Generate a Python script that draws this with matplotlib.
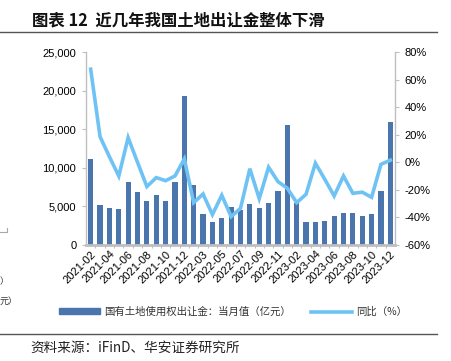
import matplotlib
matplotlib.use("Agg")
import matplotlib.pyplot as plt
from matplotlib.lines import Line2D
from matplotlib.patches import Patch

plt.rcParams['font.family'] = ['Liberation Sans', 'Noto Sans CJK SC', 'DejaVu Sans']

months = (["2021-%02d" % m for m in range(2, 13)] +
          ["2022-%02d" % m for m in range(2, 13)] +
          ["2023-%02d" % m for m in range(2, 13)])
revenue = [11140, 5140, 4790, 4620, 8210, 6830, 5620, 6440, 5650, 8120, 19300,
           7770, 3940, 2940, 3460, 4880, 4490, 5310, 4710, 5400, 7040, 15570,
           5360, 2980, 2900, 3030, 3680, 4070, 4100, 3680, 3980, 6920, 15890]
yoy = [67.7, 18.6, 4.0, -10.0, 17.9, 0.0, -17.7, -11.2, -13.4, -10.0, 2.4,
       -29.4, -23.1, -38.1, -24.0, -39.6, -33.5, -4.7, -26.5, -3.6, -14.1, -18.9,
       -29.4, -23.3, -0.7, -12.4, -24.5, -10.0, -22.6, -21.8, -25.5, -1.5, 1.5]
left_ticks = [0, 5000, 10000, 15000, 20000, 25000]
right_ticks = [-60, -40, -20, 0, 20, 40, 60, 80]
title = "图表 12  近几年我国土地出让金整体下滑"
bar_label = "国有土地使用权出让金：当月值（亿元）"
line_label = "同比（%）"
source = "资料来源：iFinD、华安证券研究所"

BAR_C = "#4a76ad"
LINE_C = "#6ec3f4"
AX_C = "#bfbfbf"
CJK = ['Noto Sans CJK SC', 'DejaVu Sans']

fig = plt.figure(figsize=(4.52, 3.61), dpi=100)
ax = fig.add_axes([86/452, 1-244.7/361, (395-86)/452, (244.7-52.3)/361])
x = list(range(len(months)))
ax.bar(x, revenue, width=0.55, color=BAR_C, zorder=2)
ax.set_xlim(-0.5, len(months)-0.5)
ax.set_ylim(0, 25000)
ax.set_yticks(left_ticks)
ax.set_yticklabels([f"{v:,}" for v in left_ticks], fontsize=8)
ax.set_xticks(x[::2])
ax.set_xticklabels(months[::2], rotation=45, ha='right', va='top', fontsize=8,
                   rotation_mode='anchor')
ax.set_xticks([i+0.5 for i in x[:-1]], minor=True)
ax.tick_params(axis='x', which='major', length=0, pad=3)
ax.tick_params(axis='x', which='minor', length=2, color=AX_C, width=0.8)
ax.tick_params(axis='y', length=3, color=AX_C, width=0.8, pad=4)
for s in ['top', 'right']:
    ax.spines[s].set_visible(False)
ax.spines['left'].set_color(AX_C)
ax.spines['left'].set_linewidth(1.0)
ax.spines['bottom'].set_color(AX_C)
ax.spines['bottom'].set_linewidth(2.0)

ax2 = ax.twinx()
ax2.plot(x, yoy, color=LINE_C, lw=2.6, zorder=3, solid_joinstyle='miter')
ax2.set_ylim(-60, 80)
ax2.set_yticks(right_ticks)
ax2.set_yticklabels([f"{v}%" for v in right_ticks], fontsize=8)
ax2.tick_params(axis='y', length=3, color=AX_C, width=0.8, pad=4)
for s in ['top', 'left', 'bottom']:
    ax2.spines[s].set_visible(False)
ax2.spines['right'].set_color(AX_C)
ax2.spines['right'].set_linewidth(1.0)

# title and rules
fig.text(32/452, 1-20.5/361, title, fontsize=11.8, fontweight='bold',
         family=CJK, va='center', ha='left', color="#111111")
fig.add_artist(Line2D([0, 437/452], [1-31.7/361]*2, color="#555555", lw=1.0))
fig.add_artist(Line2D([0, 437/452], [1-334.3/361]*2, color="#555555", lw=1.0))
fig.text(30/452, 1-347.5/361, source, fontsize=9.8,
         family=CJK, va='center', ha='left', color="#222222")

# legend
handles = [Patch(color=BAR_C, label=bar_label),
           Line2D([0], [0], color=LINE_C, lw=2.6, label=line_label)]
leg = fig.legend(handles=handles, loc='center', bbox_to_anchor=(233/452, 1-311.7/361),
                 ncol=2, frameon=False, handlelength=3.9, handleheight=0.45,
                 columnspacing=2.0, handletextpad=0.4,
                 prop={'family': CJK, 'size': 7.5})
for t in leg.get_texts():
    t.set_color("#333333")

# leftover fragments at left edge
fig.add_artist(Line2D([0, 7/452, 7/452], [1-232/361, 1-232/361, 1-228/361],
                      color="#aaaaaa", lw=0.8))
fig.text(0, 1-282/361, "）", fontsize=6.5, family=CJK,
         va='center', ha='left', color="#333333")
fig.text(0, 1-301/361, "元）", fontsize=6.5, family=CJK,
         va='center', ha='left', color="#333333")

fig.savefig("out.png", dpi=100)
